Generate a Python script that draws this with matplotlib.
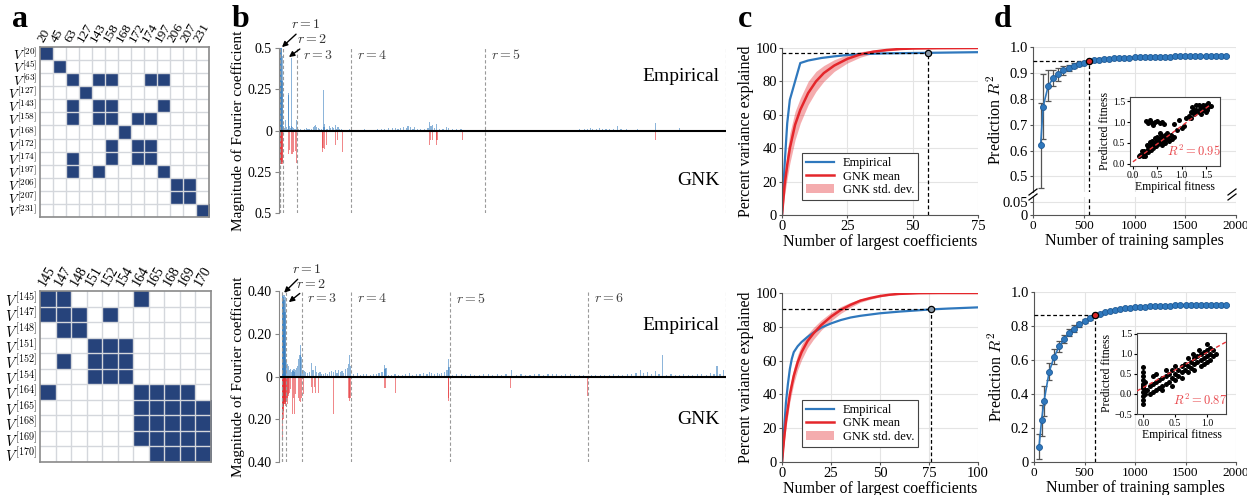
import matplotlib
matplotlib.use('agg')
import matplotlib.pyplot as plt
from matplotlib.colors import ListedColormap
import numpy as np

plt.rcParams['font.family'] = ['Liberation Serif', 'DejaVu Serif']
plt.rcParams['mathtext.fontset'] = 'cm'

BLUE = '#2f78bd'
RED = '#e4262b'
NAVY = '#26437b'

# ---------------- panel a data ----------------
top_sites = [20, 45, 63, 127, 143, 158, 168, 172, 174, 197, 206, 207, 231]
top_neigh = [[20], [45], [63, 143, 158, 174, 197], [127], [63, 143, 158, 197],
             [63, 143, 158, 172, 174], [168], [158, 172, 174], [63, 158, 172, 174],
             [63, 143, 197], [206, 207], [206, 207], [231]]
bot_sites = [145, 147, 148, 151, 152, 154, 164, 165, 168, 169, 170]
bot_neigh = [[145, 147, 164], [145, 147, 148, 152], [147, 148], [151, 152, 154],
             [147, 151, 152, 154], [151, 152, 154], [145, 164, 165, 168, 169],
             [164, 165, 168, 169, 170], [164, 165, 168, 169, 170],
             [164, 165, 168, 169, 170], [165, 168, 169, 170]]

# ---------------- panel b data ----------------
top_bounds = [0, 1, 14, 92, 378, 1093, 2380]
top_emp_idx = [1, 3, 5, 7, 9, 11, 13,
               20, 25, 32, 36, 40, 44, 47, 52, 56, 60, 64, 68, 72, 78, 84, 89,
               100, 110, 120, 130, 140, 150, 160, 170, 178, 185, 192, 197, 205, 212, 220, 231, 235,
               240, 248, 256, 265, 272, 280, 288, 296, 300, 310, 318, 330, 345, 360, 372,
               390, 410, 430, 450, 470, 500, 520, 540, 560, 580, 600, 615, 630, 645, 660, 675,
               683, 697, 710, 720, 735, 750, 770, 790, 800, 806, 816, 825, 837, 850, 870, 888,
               901, 920, 940, 966, 980, 1000, 1030, 1060, 1080,
               1110, 1150, 1200, 1250, 1300, 1350, 1400, 1450, 1500, 1550, 1600, 1625, 1640,
               1655, 1670, 1690, 1705, 1720, 1740, 1760, 1780, 1800, 1820, 1850, 1880, 1910,
               1940, 1970, 2006, 2030, 2060, 2100, 2133, 2170, 2210, 2250, 2290, 2330, 2370]
top_emp_val = [0.62, 0.55, 0.48, 0.58, 0.52, 0.30, 0.45,
               0.03, 0.015, 0.063, 0.02, 0.012, 0.228, 0.215, 0.03, 0.018, 0.025, 0.44, 0.02,
               0.015, 0.01, 0.012, 0.066,
               0.008, 0.012, 0.006, 0.01, 0.015, 0.008, 0.01, 0.012, 0.02, 0.025, 0.036, 0.02,
               0.015, 0.01, 0.012, 0.245, 0.02,
               0.04, 0.01, 0.012, 0.025, 0.018, 0.02, 0.015, 0.035, 0.012, 0.02, 0.01, 0.008,
               0.006, 0.005, 0.008,
               0.005, 0.006, 0.004, 0.007, 0.005, 0.006, 0.008, 0.01, 0.012, 0.015, 0.014,
               0.018, 0.012, 0.016, 0.02, 0.015,
               0.028, 0.024, 0.012, 0.02, 0.01, 0.008, 0.012, 0.015, 0.05, 0.03, 0.034, 0.015,
               0.042, 0.01, 0.008, 0.02,
               0.016, 0.01, 0.008, 0.012, 0.006, 0.005, 0.006, 0.004, 0.005,
               0.004, 0.003, 0.005, 0.004, 0.003, 0.005, 0.004, 0.006, 0.004, 0.005, 0.008,
               0.012, 0.01,
               0.015, 0.012, 0.01, 0.014, 0.012, 0.008, 0.01, 0.012, 0.028, 0.01, 0.008, 0.006,
               0.008,
               0.005, 0.006, 0.048, 0.006, 0.005, 0.006, 0.016, 0.005, 0.004, 0.005, 0.004,
               0.005, 0.004]
top_gnk_idx = [1, 3, 5, 7, 9, 11, 13, 44, 53, 60, 67, 74, 81, 90,
               227, 230, 238, 248, 298, 305, 333, 798, 802, 815, 836, 838, 975, 2006]
top_gnk_val = [0.2, 0.2, 0.19, 0.2, 0.2, 0.19, 0.2, 0.14, 0.12, 0.14, 0.145, 0.13, 0.125,
               0.196, 0.13, 0.105, 0.11, 0.09, 0.085, 0.055, 0.13, 0.09, 0.056, 0.056, 0.09,
               0.056, 0.056, 0.056]

bot_bounds = [0, 1, 12, 67, 232, 562, 1024, 1486]
bot_emp_idx = [1, 2, 3, 4, 5, 6, 7, 8, 9, 10, 11,
               13, 16, 19, 22, 25, 28, 31, 34, 37, 40, 43, 46, 49, 52, 55, 58, 61, 63, 65,
               70, 75, 80, 86, 92, 99, 104, 111, 116, 122, 127, 133, 140, 146, 152, 158, 166,
               172, 178, 184, 189, 195, 201, 207, 213, 219, 223, 226, 229,
               240, 252, 262, 272, 283, 295, 305, 315, 325, 335, 342, 345, 348, 356, 366, 378,
               390, 402, 414, 426, 438, 450, 462, 474, 485, 493, 500, 510, 520, 527, 535, 545,
               552, 557, 559,
               570, 585, 600, 615, 630, 645, 660, 675, 690, 705, 720, 735, 750, 769, 785, 800,
               815, 830, 845, 860, 875, 890, 905, 920, 935, 950, 965, 980, 995, 1010,
               1035, 1050, 1065, 1080, 1095, 1110, 1125, 1140, 1155, 1170, 1185, 1199, 1210,
               1222, 1236, 1250, 1262, 1274, 1288, 1302, 1316, 1330, 1345, 1360, 1375, 1390,
               1405, 1420, 1435, 1446, 1456, 1466, 1478]
bot_emp_val = [0.38, 0.36, 0.39, 0.37, 0.36, 0.2, 0.38, 0.36, 0.15, 0.3, 0.37,
               0.075, 0.07, 0.06, 0.05, 0.03, 0.036, 0.02, 0.03, 0.025, 0.035, 0.02, 0.03,
               0.04, 0.05, 0.08, 0.1, 0.146, 0.1, 0.09,
               0.03, 0.025, 0.02, 0.015, 0.02, 0.063, 0.03, 0.047, 0.02, 0.015, 0.02, 0.01,
               0.012, 0.015, 0.01, 0.02, 0.025, 0.02, 0.03, 0.015, 0.03, 0.02, 0.025, 0.015,
               0.035, 0.04, 0.06, 0.1, 0.05,
               0.01, 0.015, 0.008, 0.012, 0.01, 0.006, 0.012, 0.01, 0.015, 0.02, 0.056, 0.036,
               0.04, 0.008, 0.006, 0.01, 0.008, 0.006, 0.01, 0.015, 0.008, 0.01, 0.012, 0.015,
               0.012, 0.02, 0.015, 0.012, 0.018, 0.012, 0.015, 0.02, 0.03, 0.08, 0.044,
               0.008, 0.01, 0.012, 0.008, 0.01, 0.006, 0.008, 0.01, 0.012, 0.008, 0.01, 0.006,
               0.01, 0.03, 0.008, 0.01, 0.006, 0.008, 0.012, 0.01, 0.008, 0.01, 0.012, 0.01,
               0.008, 0.012, 0.01, 0.008, 0.006, 0.008,
               0.006, 0.008, 0.005, 0.008, 0.006, 0.01, 0.008, 0.006, 0.01, 0.012, 0.015, 0.03,
               0.018, 0.02, 0.012, 0.025, 0.01, 0.1, 0.008, 0.01, 0.006, 0.008, 0.01, 0.006,
               0.008, 0.01, 0.012, 0.008, 0.015, 0.01, 0.05, 0.012, 0.03]
bot_gnk_idx = [1, 2, 3, 4, 5, 6, 7, 8, 9, 10, 11,
               13, 15, 17, 19, 21, 23, 26, 29, 34, 38, 42, 46, 56, 59, 62, 65,
               71, 99, 102, 108, 111, 122, 172, 224, 227, 230,
               342, 346, 379, 556, 558, 766, 1022]
bot_gnk_val = [0.29, 0.21, 0.175, 0.14, 0.2, 0.16, 0.13, 0.12, 0.1, 0.13, 0.12,
               0.14, 0.12, 0.1, 0.13, 0.09, 0.08, 0.075, 0.06, 0.175, 0.1, 0.175, 0.08, 0.1,
               0.115, 0.12, 0.1,
               0.08, 0.05, 0.075, 0.05, 0.075, 0.075, 0.175, 0.1, 0.115, 0.1,
               0.055, 0.055, 0.077, 0.1, 0.113, 0.053, 0.09]

# ---------------- panel c data ----------------
c1_emp_x = [0, 1, 2, 3, 5, 7, 10, 15, 20, 25, 30, 40, 50, 56, 65, 75]
c1_emp_y = [0, 30, 55, 69, 80, 91, 92.5, 94, 95, 95.8, 96.3, 96.8, 97, 97.1, 97.3, 97.5]
c1_gnk_x = [0, 1, 2, 3, 5, 7, 10, 13, 16, 20, 25, 30, 35, 40, 45, 50, 60, 75]
c1_gnk_y = [0, 18, 30, 40, 54, 63, 73, 80, 85, 89.5, 93.5, 96.2, 97.8, 98.8, 99.4, 99.7, 99.9, 100]
c1_gnk_lo = [0, 12, 22, 31, 45, 55, 66, 74, 80, 86, 91, 94.5, 96.8, 98.2, 99, 99.5, 99.8, 100]
c1_gnk_hi = [0, 24, 38, 49, 62, 70, 80, 86, 89.5, 93, 96, 97.8, 98.8, 99.4, 99.7, 99.9, 100, 100]
c1_mark = (56, 97)

c2_emp_x = [0, 1, 2, 3, 4, 5, 6, 8, 10, 13, 16, 20, 25, 30, 35, 40, 50, 60, 70, 76, 85, 100]
c2_emp_y = [0, 18, 35, 46, 55, 61, 65, 68.5, 71, 74, 76.5, 79.5, 82, 84, 85.5, 86.5, 88, 89,
            89.8, 90.3, 90.8, 91.5]
c2_gnk_x = [0, 1, 2, 4, 6, 8, 10, 13, 16, 20, 25, 30, 35, 40, 45, 50, 55, 60, 70, 80, 100]
c2_gnk_y = [0, 13, 24, 40, 51, 59, 65, 71.5, 76, 81, 86, 90, 93, 95.5, 97, 98.2, 99, 99.5,
            99.9, 100, 100]
c2_gnk_lo = [0, 10, 20, 35.5, 46.5, 54.5, 60.5, 67.5, 72.5, 78, 83.5, 88, 91.5, 94.5, 96.3,
             97.7, 98.7, 99.3, 99.8, 100, 100]
c2_gnk_hi = [0, 16, 28, 44.5, 55.5, 63.5, 69.5, 75.5, 79.5, 84, 88.5, 92, 94.5, 96.5, 97.7,
             98.7, 99.3, 99.7, 100, 100, 100]
c2_mark = (76, 90.3)

# ---------------- panel d data ----------------
d1_x = [75, 100, 150, 200, 250, 300, 350, 400, 450, 500, 550, 600, 650, 700, 750, 800, 850,
        900, 950, 1000, 1050, 1100, 1150, 1200, 1250, 1300, 1350, 1400, 1450, 1500, 1550,
        1600, 1650, 1700, 1750, 1800, 1850, 1900]
d1_y = [0.62, 0.77, 0.85, 0.88, 0.895, 0.91, 0.92, 0.927, 0.934, 0.94, 0.945, 0.948, 0.951,
        0.953, 0.955, 0.956, 0.957, 0.958, 0.959, 0.960, 0.961, 0.961, 0.962, 0.962, 0.963,
        0.963, 0.963, 0.964, 0.964, 0.964, 0.964, 0.965, 0.965, 0.965, 0.965, 0.965, 0.965,
        0.965]
d1_err = [0.165, 0.125, 0.06, 0.03, 0.025, 0.018, 0.012, 0.01, 0.008, 0.007, 0.006, 0.005,
          0.005, 0.004, 0.004, 0.004, 0.004, 0.004, 0.004, 0.004, 0.004, 0.004, 0.004, 0.004,
          0.004, 0.004, 0.004, 0.004, 0.004, 0.004, 0.004, 0.004, 0.004, 0.004, 0.004, 0.004,
          0.004, 0.004]
d1_hi = 10

d2_x = [50, 75, 100, 150, 200, 250, 300, 350, 400, 450, 500, 550, 600, 650, 700, 750, 800,
        850, 900, 950, 1000, 1050, 1100, 1150, 1200, 1250, 1300, 1350, 1400, 1450, 1500, 1550,
        1600, 1650, 1700, 1750, 1800, 1850, 1900]
d2_y = [0.09, 0.245, 0.36, 0.53, 0.62, 0.68, 0.725, 0.76, 0.785, 0.81, 0.83, 0.847, 0.862,
        0.873, 0.882, 0.889, 0.895, 0.9, 0.904, 0.907, 0.91, 0.912, 0.914, 0.916, 0.917, 0.918,
        0.919, 0.92, 0.921, 0.922, 0.922, 0.923, 0.923, 0.924, 0.924, 0.924, 0.925, 0.925,
        0.925]
d2_err = [0.075, 0.09, 0.09, 0.05, 0.045, 0.03, 0.025, 0.02, 0.018, 0.015, 0.012, 0.01, 0.008,
          0.006, 0.006, 0.005, 0.005, 0.005, 0.005, 0.005, 0.005, 0.005, 0.005, 0.005, 0.005,
          0.005, 0.005, 0.005, 0.005, 0.005, 0.005, 0.005, 0.005, 0.005, 0.005, 0.005, 0.005,
          0.005, 0.005]
d2_hi = 12

in1_x = [0.15, 0.2, 0.22, 0.25, 0.3, 0.32, 0.35, 0.38, 0.4, 0.42, 0.45, 0.48, 0.5, 0.52, 0.55,
         0.57, 0.6, 0.62, 0.65, 0.68, 0.7, 0.72, 0.75, 0.78, 0.8, 0.85, 0.6, 0.55, 0.45, 0.35,
         0.28, 0.18, 0.25, 0.4, 0.5, 0.65, 0.7, 0.12, 0.3, 0.58,
         0.27, 0.32, 0.36, 0.4, 0.45, 0.5, 0.55, 0.6, 0.63, 0.42,
         1.15, 1.2, 1.25, 1.3, 1.35, 1.4, 1.45, 1.5, 1.55, 1.3, 1.22, 1.4, 1.5, 1.35, 1.45,
         1.55, 1.2, 1.6, 1.28, 1.38, 1.48, 1.25, 1.42, 1.52,
         0.9, 1.0, 1.05, 0.95, 1.1, 0.85]
in1_y = [0.22, 0.18, 0.3, 0.25, 0.35, 0.28, 0.4, 0.33, 0.45, 0.38, 0.5, 0.42, 0.55, 0.48, 0.6,
         0.52, 0.65, 0.57, 0.7, 0.6, 0.75, 0.65, 0.55, 0.7, 0.6, 0.65, 0.45, 0.75, 0.62, 0.52,
         0.45, 0.3, 0.2, 0.55, 0.65, 0.5, 0.62, 0.18, 0.42, 0.7,
         1.02, 0.98, 1.04, 0.97, 1.0, 1.03, 0.98, 1.0, 0.95, 0.92,
         1.15, 1.25, 1.2, 1.3, 1.25, 1.35, 1.3, 1.4, 1.35, 1.4, 1.35, 1.2, 1.25, 1.42, 1.42,
         1.45, 1.1, 1.38, 1.22, 1.32, 1.36, 1.3, 1.28, 1.3,
         0.8, 0.85, 0.9, 1.05, 1.1, 0.95]
in1_fit_x = [0.0, 1.6]
in1_fit_y = [0.05, 1.42]

in2_x = [0, 0, 0, 0, 0, 0, 0, 0, 0, 0, 0.02, 0.02, 0.03, -0.01,
         0.05, 0.1, 0.1, 0.15, 0.15, 0.2, 0.2, 0.25, 0.25, 0.3, 0.3, 0.35, 0.35, 0.4, 0.4,
         0.45, 0.45, 0.5, 0.5, 0.55, 0.55, 0.6, 0.6, 0.65, 0.65, 0.7, 0.7, 0.75, 0.75, 0.8,
         0.8, 0.85, 0.85, 0.9, 0.9, 0.9, 0.95, 0.95, 1.0, 1.0, 1.0, 1.05, 1.05, 1.1, 1.1,
         1.15, 0.5, 0.35, 0.6, 0.2, 0.3, 0.45, 0.7, 1.0, 0.8, 0.15, 0.95, 1.05, 0.88, 0.78]
in2_y = [-0.25, -0.15, -0.05, 0.05, 0.15, 0.25, 0.35, 0.45, 0.55, 0.68, 0.1, 0.3, 0.0, 0.2,
         0.1, 0.2, 0.0, 0.25, 0.05, 0.3, 0.1, 0.35, 0.15, 0.4, 0.2, 0.45, 0.25, 0.5, 0.3,
         0.4, 0.6, 0.5, 0.35, 0.6, 0.45, 0.55, 0.7, 0.6, 0.75, 0.7, 0.55, 0.8, 0.65, 0.75,
         0.9, 0.8, 0.95, 0.85, 1.0, 0.7, 0.9, 1.05, 0.95, 1.1, 0.8, 1.0, 1.15, 0.95, 1.1,
         1.0, 0.7, 0.6, 0.4, 0.5, 0.1, 0.2, 0.9, 1.25, 0.6, 0.45, 0.75, 0.85, 1.1, 1.0]
in2_fit_x = [-0.1, 1.3]
in2_fit_y = [0.075, 1.295]

W, H = 1247, 495
fig = plt.figure(figsize=(W / 100, H / 100), dpi=100)


def rect(x0, y0, x1, y1):
    return [x0 / W, 1 - y1 / H, (x1 - x0) / W, (y1 - y0) / H]


# ---------------- panel a ----------------
def matrix(box, sites, neigh, fs, rfs):
    ax = fig.add_axes(box)
    n = len(sites)
    M = np.zeros((n, n))
    for i, nb in enumerate(neigh):
        for s in nb:
            M[i, sites.index(s)] = 1
    ax.imshow(M, cmap=ListedColormap(['white', NAVY]), aspect='auto', interpolation='nearest')
    ax.set_xticks(np.arange(n) + 0.5, minor=True)
    ax.set_yticks(np.arange(n) + 0.5, minor=True)
    ax.grid(which='minor', color='#d4d7dc', lw=1.0)
    ax.tick_params(which='both', length=0, pad=2)
    ax.xaxis.tick_top()
    ax.set_xticks(range(n))
    ax.set_xticklabels([str(s) for s in sites], rotation=60, ha='left', va='bottom',
                       rotation_mode='anchor', fontsize=fs)
    ax.set_yticks(range(n))
    ax.set_yticklabels(['$V^{[%d]}$' % s for s in sites], fontsize=rfs)
    for sp in ax.spines.values():
        sp.set_color('#8a8a8a')
        sp.set_linewidth(1.2)
    return ax


matrix(rect(40, 47, 209, 217), top_sites, top_neigh, 9.5, 9.5)
matrix(rect(40, 291, 211, 462), bot_sites, bot_neigh, 10, 10.5)


# ---------------- panel b ----------------
def spectrum(box, bounds, ei, ev, gi, gv, lim, ticks, labels, bw, xl, rlabels, arrows):
    ax = fig.add_axes(box)
    ax.bar(ei, ev, width=bw, color=BLUE, alpha=0.55, lw=0)
    ax.bar(gi, -np.array(gv), width=bw, color=RED, alpha=0.55, lw=0)
    for b in bounds:
        ax.axvline(b, color='#9a9a9a', ls='--', lw=0.8, dashes=(3, 2))
    ax.axhline(0, color='k', lw=1.5)
    ax.set_xlim(*xl)
    ax.set_ylim(-lim, lim)
    ax.set_yticks(ticks)
    ax.set_yticklabels(labels, fontsize=10)
    ax.set_xticks([])
    for s in ['top', 'right', 'bottom']:
        ax.spines[s].set_visible(False)
    ax.spines['left'].set_color('#888888')
    ax.tick_params(axis='y', length=3, color='#888888', pad=2)
    ax.set_ylabel('Magnitude of Fourier coefficient', fontsize=11, labelpad=2)
    for x, y, t in rlabels:
        ax.text(x, y, t, transform=ax.get_xaxis_transform(), fontsize=10, color='#444444',
                va='center')
    for t, txy, hxy in arrows:
        ax.annotate(t, xy=hxy, xytext=txy, xycoords=('data', 'axes fraction'),
                    textcoords=('data', 'axes fraction'), fontsize=10, color='#333333',
                    va='center',
                    arrowprops=dict(arrowstyle='-|>', color='k', lw=1.0,
                                    mutation_scale=8, shrinkA=0, shrinkB=0))
    return ax


axb1 = spectrum(rect(279, 48, 726, 213), top_bounds, top_emp_idx, top_emp_val,
                top_gnk_idx, top_gnk_val, 0.5, [-0.5, -0.25, 0, 0.25, 0.5],
                ['0.5', '0.25', '0', '0.25', '0.5'], 6, (-5, 2380),
                [(125, 0.955, '$r = 3$'), (410, 0.955, '$r = 4$'), (1125, 0.955, '$r = 5$')],
                [('$r = 1$', (60, 1.14), (11, 1.005)), ('$r = 2$', (92, 1.05), (48, 0.945))])
axb1.text(0.985, 0.80, 'Empirical', transform=axb1.transAxes, fontsize=14, ha='right')
axb1.text(0.985, 0.17, 'GNK', transform=axb1.transAxes, fontsize=14, ha='right')

axb2 = spectrum(rect(279, 291, 726, 462), bot_bounds, bot_emp_idx, bot_emp_val,
                bot_gnk_idx, bot_gnk_val, 0.4, [-0.4, -0.2, 0, 0.2, 0.4],
                ['0.40', '0.20', '0', '0.20', '0.40'], 4, (-10, 1486),
                [(85, 0.955, '$r = 3$'), (252, 0.955, '$r = 4$'), (582, 0.955, '$r = 5$'),
                 (1043, 0.955, '$r = 6$')],
                [('$r = 1$', (34, 1.123), (7, 0.99)), ('$r = 2$', (48, 1.04), (23, 0.935))])
axb2.text(0.985, 0.77, 'Empirical', transform=axb2.transAxes, fontsize=14, ha='right')
axb2.text(0.985, 0.22, 'GNK', transform=axb2.transAxes, fontsize=14, ha='right')


# ---------------- panel c ----------------
def style(ax):
    ax.grid(True, color='#e4e4e4', lw=0.8)
    ax.set_axisbelow(True)
    for s in ['top', 'right']:
        ax.spines[s].set_visible(False)
    for s in ['left', 'bottom']:
        ax.spines[s].set_color('#555555')
        ax.spines[s].set_linewidth(0.8)
    ax.tick_params(labelsize=10.5, length=2, color='#555555', pad=1.5)


def variance(box, ex, ey, gx, gy, lo, hi, mark, xmax, xticks):
    ax = fig.add_axes(box)
    style(ax)
    ax.fill_between(gx, lo, hi, color=RED, alpha=0.38, lw=0, label='GNK std. dev.')
    ax.plot(ex, ey, color=BLUE, lw=1.6, label='Empirical')
    ax.plot(gx, gy, color=RED, lw=1.8, label='GNK mean')
    ax.plot([0, mark[0]], [mark[1], mark[1]], 'k--', lw=0.9, dashes=(3, 2))
    ax.plot([mark[0], mark[0]], [0, mark[1]], 'k--', lw=0.9, dashes=(3, 2))
    ax.plot(*mark, 'o', ms=4.5, mfc='#8c9aa8', mec='k', mew=0.9)
    ax.set_xlim(0, xmax)
    ax.set_ylim(0, 100)
    ax.set_xticks(xticks)
    ax.set_yticks([0, 20, 40, 60, 80, 100])
    ax.set_xlabel('Number of largest coefficients', fontsize=11.5, labelpad=1)
    ax.set_ylabel('Percent variance explained', fontsize=11.5, labelpad=1)
    h, l = ax.get_legend_handles_labels()
    order = [1, 2, 0]
    leg = ax.legend([h[i] for i in order], [l[i] for i in order], loc='lower left',
                    bbox_to_anchor=(0.07, 0.05), fontsize=9, fancybox=False,
                    framealpha=1, edgecolor='#444444', handlelength=2.2, borderpad=0.35,
                    labelspacing=0.12, handletextpad=0.7)
    leg.get_frame().set_linewidth(0.8)
    return ax


variance(rect(782, 48, 978, 215), c1_emp_x, c1_emp_y, c1_gnk_x, c1_gnk_y, c1_gnk_lo,
         c1_gnk_hi, c1_mark, 75, [0, 25, 50, 75])
variance(rect(782, 293, 978, 462), c2_emp_x, c2_emp_y, c2_gnk_x, c2_gnk_y, c2_gnk_lo,
         c2_gnk_hi, c2_mark, 100, [0, 25, 50, 75, 100])


# ---------------- panel d ----------------
def r2curve(ax, x, y, err, hi):
    ax.errorbar(x, y, yerr=err, fmt='none', ecolor='#555555', elinewidth=0.9, capsize=2.5,
                capthick=0.9, zorder=2)
    ax.plot(x, y, '-', color=BLUE, lw=1.2, zorder=3)
    ax.plot(x, y, 'o', ms=4.3, mfc=BLUE, mec='#1f5a96', mew=0.6, zorder=4)
    ax.plot(x[hi], y[hi], 'o', ms=4.5, mfc='#d62728', mec='k', mew=0.9, zorder=5)
    ax.plot([0, x[hi]], [y[hi], y[hi]], 'k--', lw=0.9, dashes=(3, 2), zorder=3)
    ax.plot([x[hi], x[hi]], [0, y[hi]], 'k--', lw=0.9, dashes=(3, 2), zorder=3)
    ax.set_xlim(0, 2000)


# top d (broken axis)
axd1 = fig.add_axes(rect(1033, 47, 1236, 192))
axd1b = fig.add_axes(rect(1033, 197, 1236, 215))
for ax in (axd1, axd1b):
    style(ax)
    r2curve(ax, d1_x, d1_y, d1_err, d1_hi)
axd1.set_ylim(0.44, 1.0)
axd1.set_yticks([0.5, 0.6, 0.7, 0.8, 0.9, 1.0])
axd1.set_xticks([0, 500, 1000, 1500, 2000])
axd1.tick_params(labelbottom=False, bottom=False)
axd1.spines['bottom'].set_visible(False)
axd1b.set_ylim(0, 0.07)
axd1b.set_yticks([0, 0.05])
axd1b.set_yticklabels(['0', '0.05'])
axd1b.set_xticks([0, 500, 1000, 1500, 2000])
axd1b.set_xticklabels(['0', '500', '1000', '1500', '2000'], fontsize=9.5)
axd1b.set_xlabel('Number of training samples', fontsize=11.5, labelpad=1)
axd1.set_ylabel('Prediction $R^2$', fontsize=11.5, labelpad=4)
for xf in (0, 1):
    for yy in (192, 197):
        fig.add_artist(plt.Line2D([(1033 + xf * 199 - 4) / W, (1033 + xf * 199 + 4) / W],
                                  [1 - (yy + 3) / H, 1 - (yy - 3) / H], color='k', lw=0.9))

# bottom d
axd2 = fig.add_axes(rect(1034, 292, 1236, 462))
style(axd2)
r2curve(axd2, d2_x, d2_y, d2_err, d2_hi)
axd2.set_ylim(0, 1.0)
axd2.set_yticks([0, 0.2, 0.4, 0.6, 0.8, 1.0])
axd2.set_yticklabels(['0', '0.2', '0.4', '0.6', '0.8', '1.0'])
axd2.set_xticks([0, 500, 1000, 1500, 2000])
axd2.set_xticklabels(['0', '500', '1000', '1500', '2000'], fontsize=9.5)
axd2.set_xlabel('Number of training samples', fontsize=11.5, labelpad=1)
axd2.set_ylabel('Prediction $R^2$', fontsize=11.5, labelpad=4)


def inset(box, x, y, fx, fy, xl, yl, xt, yt, txt, txy):
    ax = fig.add_axes(box)
    ax.scatter(x, y, s=13, c='k', lw=0, zorder=2)
    ax.plot(fx, fy, '--', color='#e8343a', lw=1.0, dashes=(3, 2), zorder=3)
    ax.set_xlim(*xl)
    ax.set_ylim(*yl)
    ax.set_xticks(xt)
    ax.set_yticks(yt)
    ax.set_xticklabels(['%.1f' % v for v in xt])
    ax.set_yticklabels([('%.1f' % v).replace('-', '\u2212') for v in yt])
    ax.tick_params(labelsize=7, length=2, pad=1.5)
    for sp in ax.spines.values():
        sp.set_color('#444444')
        sp.set_linewidth(0.8)
    ax.set_xlabel('Empirical fitness', fontsize=8.5, labelpad=1)
    ax.set_ylabel('Predicted fitness', fontsize=8.5, labelpad=1)
    ax.text(txy[0], txy[1], txt, color='#e8474c', fontsize=9, ha='center', va='center',
            zorder=4)
    return ax


inset(rect(1130, 97, 1220, 166), in1_x, in1_y, in1_fit_x, in1_fit_y, (-0.06, 1.79),
      (-0.05, 1.6), [0.0, 0.5, 1.0, 1.5], [0.0, 0.5, 1.0, 1.5], '$R^2 = 0.95$', (1.25, 0.3))
inset(rect(1137, 333, 1226, 414), in2_x, in2_y, in2_fit_x, in2_fit_y, (-0.1, 1.3),
      (-0.5, 1.52), [0.0, 0.5, 1.0], [-0.5, 0.0, 0.5, 1.0, 1.5], '$R^2 = 0.87$', (0.9, -0.15))

# panel letters
for x, t in [(12, 'a'), (232, 'b'), (738, 'c'), (994, 'd')]:
    fig.text(x / W, 1 - 27 / H, t, fontsize=23, fontweight='bold', va='baseline')

fig.savefig('out.png', dpi=100)
